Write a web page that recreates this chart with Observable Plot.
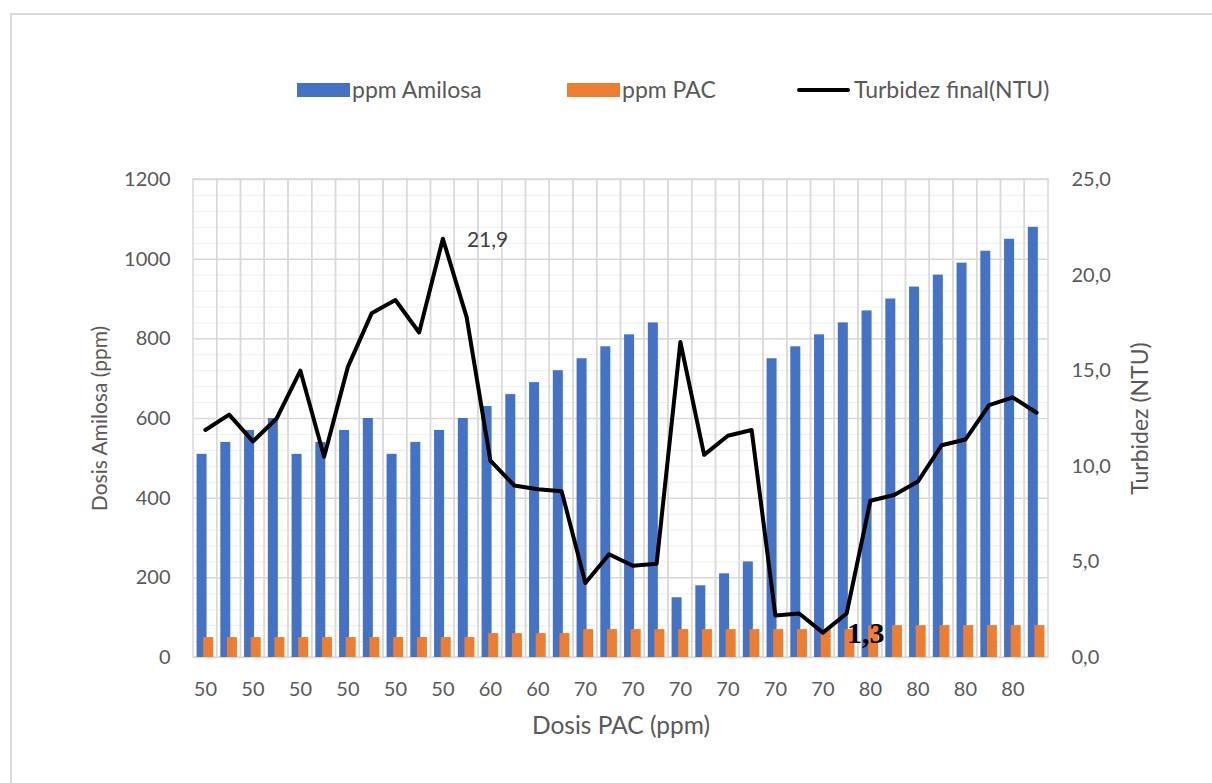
<!DOCTYPE html>
<html>
<head>
<meta charset="utf-8">
<script src="https://cdn.jsdelivr.net/npm/d3@7"></script>
<script src="https://cdn.jsdelivr.net/npm/@observablehq/plot@0.6"></script>
<style>
  html, body { margin: 0; padding: 0; background: #fff; overflow: hidden; }
  #wrap { position: relative; width: 1212px; height: 783px; font-family: Lato, "Open Sans", sans-serif; color: #595959; }
  #border { position: absolute; left: 10px; top: 13px; width: 1400px; height: 1000px; border: 2px solid #d9d9d9; box-sizing: border-box; }
  #chart { position: absolute; left: 0; top: 0; }
  .leg { position: absolute; font-size: 23px; line-height: 23px; color: #595959; white-space: nowrap; }
  .sw { position: absolute; }
</style>
</head>
<body>
<div id="wrap">
  <div id="border"></div>
  <div id="chart"></div>
  <div class="sw" style="left:297px;top:83px;width:53px;height:14px;background:#4472c4;"></div>
  <div class="leg" style="left:352px;top:78px;">ppm Amilosa</div>
  <div class="sw" style="left:567px;top:83px;width:53px;height:14px;background:#ed7d31;"></div>
  <div class="leg" style="left:622px;top:78px;">ppm PAC</div>
  <div class="sw" style="left:797px;top:88px;width:53px;height:4px;background:#000;border-radius:2px;"></div>
  <div class="leg" style="left:854px;top:78px;">Turbidez final(NTU)</div>
</div>
<script>
// Dosis PAC (ppm) per test (category axis)
const pac = [50,50,50,50,50,50,50,50,50,50,50,50,
             60,60,60,60,
             70,70,70,70,70,70,70,70,70,70,70,70,
             80,80,80,80,80,80,80,80];
// ppm Amilosa (left axis)
const amilosa = [510,540,570,600,510,540,570,600,510,540,570,600,
                 630,660,690,720,
                 750,780,810,840,150,180,210,240,750,780,810,840,
                 870,900,930,960,990,1020,1050,1080];
// Turbidez final (NTU) (right axis)
const turbidez = [11.9,12.7,11.3,12.5,15.0,10.5,15.2,18.0,18.7,17.0,21.9,17.8,
                  10.3,9.0,8.8,8.7,
                  3.9,5.4,4.8,4.9,16.5,10.6,11.6,11.9,2.2,2.3,1.3,2.3,
                  8.2,8.5,9.2,11.1,11.4,13.2,13.6,12.8];
// axis ticks
const leftTicks = [0,200,400,600,800,1000,1200];
const rightTicks = [0,5,10,15,20,25];
const turbMax = 25, amiMax = 1200;
const k = amiMax / turbMax;

const data = pac.map((p, i) => ({i, pac: p, amilosa: amilosa[i], turb: turbidez[i]}));
const fmt = v => v.toFixed(1).replace(".", ",");
const minorTicks = d3.range(0, amiMax + 1, 40);
const bw = (1048 - 193) / pac.length;
const barW = 10;
const inset = (bw - barW) / 2;

const chart = Plot.plot({
  width: 1212,
  height: 783,
  marginTop: 179,
  marginBottom: 126,
  marginLeft: 193,
  marginRight: 164,
  style: {fontFamily: "Lato, 'Open Sans', sans-serif", fontSize: "20px", color: "#595959", background: "transparent"},
  x: {type: "band", domain: data.map(d => d.i), padding: 0, round: false},
  y: {domain: [0, amiMax]},
  marks: [
    Plot.ruleY(minorTicks, {stroke: "#efefef", strokeWidth: 1}),
    Plot.ruleY(leftTicks, {stroke: "#d9d9d9", strokeWidth: 1.5}),
    Plot.barY(data, {x: "i", y1: 0, y2: amiMax, fill: "none", stroke: "#d9d9d9", strokeWidth: 1.5}),
    Plot.barY(data, {x: "i", y: "amilosa", fill: "#4472c4", dx: -3.3, insetLeft: inset, insetRight: inset}),
    Plot.barY(data, {x: "i", y: "pac", fill: "#ed7d31", dx: 3.3, insetLeft: inset, insetRight: inset}),
    Plot.line(data, {x: "i", y: d => d.turb * k, stroke: "#000", strokeWidth: 4, strokeLinejoin: "round"}),
    Plot.text(data.filter(d => d.turb === d3.max(turbidez)), {x: "i", y: d => d.turb * k, text: d => fmt(d.turb), textAnchor: "start", dx: 24, dy: 1, fill: "#404040", fontSize: 21}),
    Plot.text(data.filter(d => d.turb === d3.min(turbidez)), {x: "i", y: d => d.turb * k, text: d => fmt(d.turb), textAnchor: "start", dx: 24, dy: 1, fill: "#000", fontSize: 30, fontWeight: "bold", fontFamily: "'Liberation Serif', 'DejaVu Serif', serif"}),
    Plot.axisY({anchor: "left", ticks: leftTicks, tickFormat: d => String(d), tickSize: 0, tickPadding: 23, color: "#595959", label: null}),
    Plot.axisY({anchor: "left", ticks: [], label: "Dosis Amilosa (ppm)", labelAnchor: "center", labelArrow: "none", labelOffset: 101, fontSize: 21, color: "#595959"}),
    Plot.axisY({anchor: "right", ticks: rightTicks.map(t => t * k), tickFormat: d => fmt(d / k), tickSize: 0, tickPadding: 23, color: "#595959", label: null}),
    Plot.axisY({anchor: "right", ticks: [], label: "Turbidez (NTU)", labelAnchor: "center", labelArrow: "none", labelOffset: 99, fontSize: 23, color: "#595959"}),
    Plot.axisX({ticks: data.filter(d => d.i % 2 === 0).map(d => d.i), tickFormat: i => pac[i], tickSize: 0, tickPadding: 24, color: "#595959", label: null}),
    Plot.axisX({ticks: [], label: "Dosis PAC (ppm)", labelAnchor: "center", labelArrow: "none", labelOffset: 76, fontSize: 24.5, color: "#595959"})
  ]
});
document.getElementById("chart").appendChild(chart);
</script>
</body>
</html>
